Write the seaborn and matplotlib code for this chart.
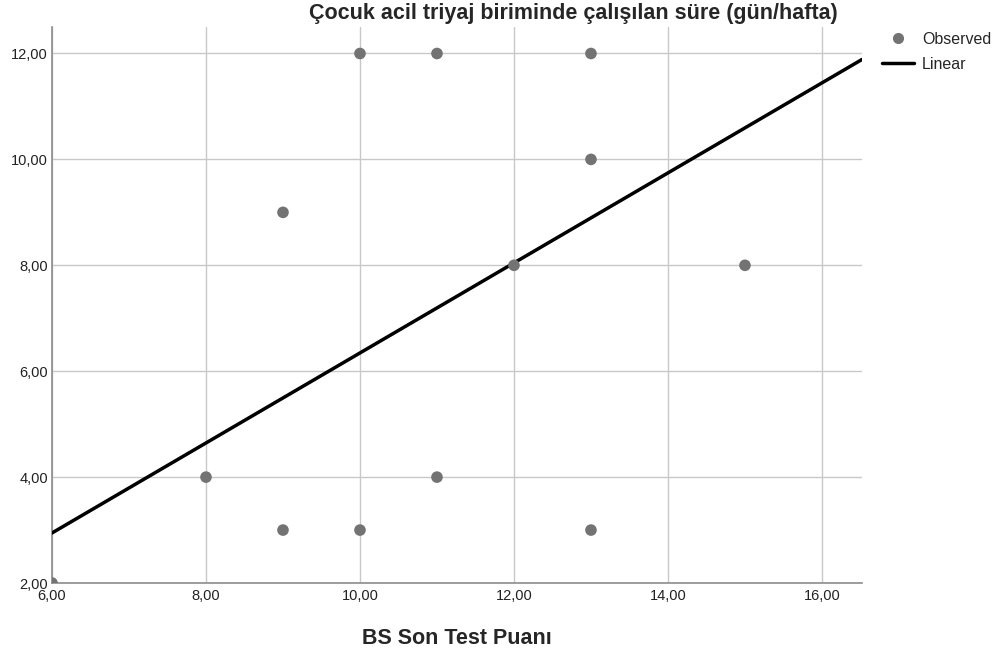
import numpy as np
import pandas as pd
import matplotlib
matplotlib.use("Agg")
import matplotlib.pyplot as plt
import seaborn as sns
from matplotlib.lines import Line2D
from matplotlib.ticker import FuncFormatter

# --- Data ---
bs_son_test = [6, 8, 9, 9, 10, 10, 11, 11, 12, 13, 13, 13, 15]
calisma_suresi = [2, 4, 3, 9, 12, 3, 12, 4, 8, 12, 10, 3, 8]
fit_intercept = -2.155
fit_slope = 0.85
x_ticks = [6, 8, 10, 12, 14, 16]
y_ticks = [2, 4, 6, 8, 10, 12]

df = pd.DataFrame({"x": bs_son_test, "y": calisma_suresi})

sns.set_style("white")
plt.rcParams['font.family'] = ['Liberation Sans', 'DejaVu Sans']

fig = plt.figure(figsize=(10, 6.59), dpi=100)
ax = fig.add_axes([0.052, 0.1153, 0.81, 0.8437])

xmin, xmax = 6, 16.52
ymin, ymax = 2, 12.5

# fitted line across the full x range
line_x = np.array([xmin, xmax])
line_df = pd.DataFrame({"x": line_x, "y": fit_intercept + fit_slope * line_x})
sns.lineplot(data=line_df, x="x", y="y", ax=ax, color="black", linewidth=2.5, zorder=3)

sns.scatterplot(data=df, x="x", y="y", ax=ax, color="#737373", s=70,
                edgecolor="none", zorder=4, clip_on=True)

ax.set_xlim(xmin, xmax)
ax.set_ylim(ymin, ymax)
ax.set_xticks(x_ticks)
ax.set_yticks(y_ticks)
comma = FuncFormatter(lambda v, p: f"{v:.2f}".replace(".", ","))
ax.xaxis.set_major_formatter(comma)
ax.yaxis.set_major_formatter(comma)
ax.grid(True, color="#c8c8c8", linewidth=1)
ax.set_axisbelow(True)
for s in ["top", "right"]:
    ax.spines[s].set_visible(False)
for s in ["left", "bottom"]:
    ax.spines[s].set_color("#8c8c8c")
    ax.spines[s].set_linewidth(1.2)
ax.tick_params(axis="both", length=0, labelsize=10.5, colors="#222222", pad=3)
ax.tick_params(axis="x", pad=4)

ax.set_xlabel("BS Son Test Puanı", fontsize=15.5, fontweight="bold", labelpad=18)
ax.set_ylabel("")
fig.text(0.573, 0.980, "Çocuk acil triyaj biriminde çalışılan süre (gün/hafta)",
         ha="center", va="center", fontsize=15.5, fontweight="bold")

handles = [
    Line2D([], [], marker="o", color="#737373", linestyle="none", markersize=7),
    Line2D([], [], color="black", linewidth=2.5),
]
fig.legend(handles, ["Observed", "Linear"], loc="upper left",
           bbox_to_anchor=(0.882, 0.952), frameon=False, fontsize=11.5,
           handlelength=2.0, handletextpad=0.5, labelspacing=0.65,
           borderpad=0, borderaxespad=0)

fig.savefig("out.png", dpi=100)
